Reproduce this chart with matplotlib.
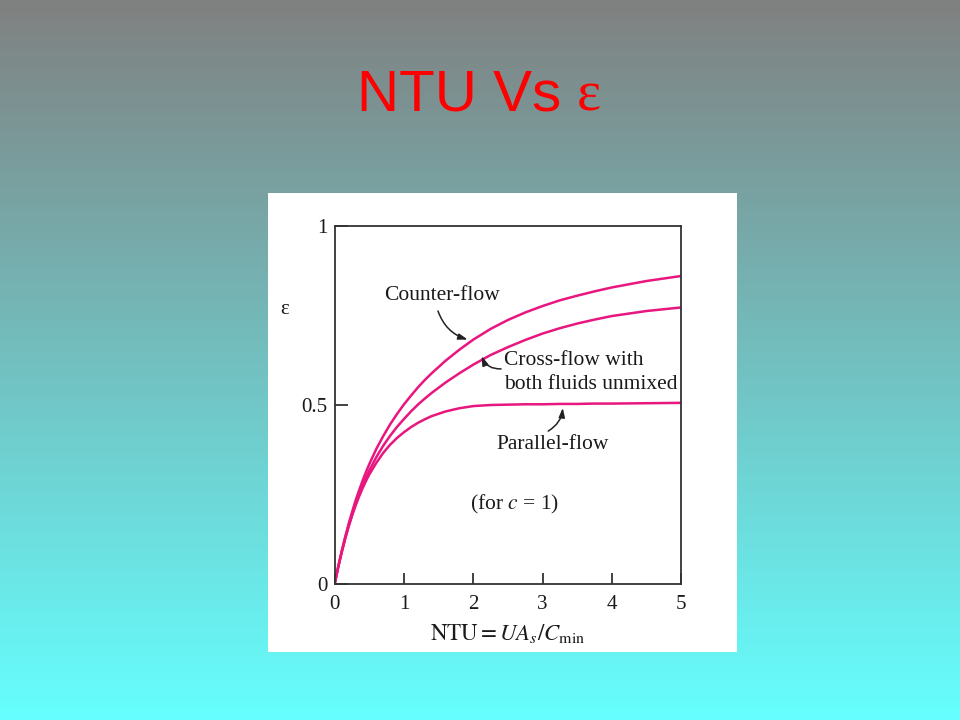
import numpy as np
import matplotlib
matplotlib.use("Agg")
import matplotlib.pyplot as plt

# ---- data ----
ntu = [0, 0.05, 0.1, 0.15, 0.2, 0.25, 0.3, 0.35, 0.4, 0.45, 0.5, 0.6, 0.7,
       0.8, 0.9, 1.0, 1.1, 1.2, 1.3, 1.4, 1.6, 1.8, 2.0, 2.25, 2.5, 2.75,
       3.0, 3.25, 3.5, 3.75, 4.0, 4.5, 5.0]
eff_counter = [0, 0.047, 0.09, 0.13, 0.167, 0.2, 0.232, 0.26, 0.287, 0.312,
               0.335, 0.377, 0.413, 0.446, 0.475, 0.502, 0.526, 0.549, 0.57,
               0.589, 0.624, 0.655, 0.683, 0.713, 0.738, 0.759, 0.777, 0.793,
               0.806, 0.818, 0.829, 0.847, 0.861]
eff_cross = [0, 0.046, 0.088, 0.126, 0.161, 0.193, 0.222, 0.249, 0.273, 0.296,
             0.317, 0.354, 0.386, 0.414, 0.439, 0.461, 0.482, 0.501, 0.518,
             0.534, 0.563, 0.589, 0.613, 0.64, 0.662, 0.682, 0.70, 0.715,
             0.728, 0.739, 0.749, 0.763, 0.773]
eff_parallel = [0, 0.046, 0.087, 0.125, 0.159, 0.19, 0.218, 0.243, 0.266,
                0.287, 0.306, 0.338, 0.366, 0.389, 0.408, 0.424, 0.438, 0.45,
                0.46, 0.469, 0.482, 0.491, 0.497, 0.50, 0.501, 0.502, 0.502,
                0.503, 0.503, 0.504, 0.504, 0.505, 0.506]
x_ticks = [0, 1, 2, 3, 4, 5]
y_ticks = [0, 0.5, 1]
y_tick_labels = ["0", "0.5", "1"]

plt.rcParams['mathtext.fontset'] = 'stix'
serif = ['Liberation Serif', 'DejaVu Serif']

fig = plt.figure(figsize=(9.6, 7.2), dpi=100)

# background gradient
bg = fig.add_axes([0, 0, 1, 1], zorder=-10)
top = np.array([128, 128, 128]) / 255.0
bot = np.array([102, 255, 255]) / 255.0
t = np.linspace(0, 1, 256)[:, None]
grad = (top[None, :] * (1 - t) + bot[None, :] * t)[:, None, :]
bg.imshow(grad, aspect='auto', extent=[0, 1, 0, 1], origin='upper')
bg.set_axis_off()

# title
fig.text(0.372, 0.847, "NTU Vs ", color='#ff0000', fontsize=42,
         family=['Liberation Sans', 'DejaVu Sans'], ha='left', va='baseline')
fig.text(0.601, 0.847, "\u03b5", color='#ff0000', fontsize=41,
         family=serif, ha='left', va='baseline')

# white panel
panel = fig.add_axes([268/960, 1 - 652/720, 469/960, 459/720], zorder=-5)
panel.set_facecolor('white')
panel.set_xticks([]); panel.set_yticks([])
for s in panel.spines.values():
    s.set_visible(False)

ax = fig.add_axes([334.7/960, 1 - 583.7/720, 346.6/960, 357.4/720])
ax.set_facecolor('white')
col = '#e8167f'
for eff in (eff_counter, eff_cross, eff_parallel):
    ax.plot(ntu, eff, color=col, lw=1.8, solid_capstyle='round',
            solid_joinstyle='round')
ax.set_xlim(0, 5)
ax.set_ylim(0, 1)

for s in ax.spines.values():
    s.set_color('#333333')
    s.set_linewidth(1.3)

tc = '#1a1a1a'
ax.set_xticks(x_ticks)
ax.set_xticklabels([str(v) for v in x_ticks], family=serif, fontsize=15)
ax.set_yticks(y_ticks)
ax.set_yticklabels(y_tick_labels, family=serif, fontsize=15)
ax.tick_params(axis='x', direction='in', length=8, width=1.3, color='#333333',
               pad=8, labelcolor=tc)
ax.tick_params(axis='y', direction='in', length=9.5, width=1.3, color='#333333',
               pad=5, labelcolor=tc)

ax.set_xlabel(r"$\mathrm{NTU} = UA_s/C_{\mathrm{min}}$", fontsize=16.5,
              color=tc, labelpad=6)
fig.text(285/960, 1 - 310/720, "\u03b5", family=serif, fontsize=15,
         color=tc, ha='center', va='center')

fs = 15.5
ax.text(0.71, 0.806, "Counter-flow", family=serif, fontsize=fs, color=tc,
        ha='left', va='center')
ax.text(2.44, 0.592, "Cross-flow with\nboth fluids unmixed", family=serif,
        fontsize=fs, color=tc, ha='left', va='center', linespacing=1.35)
ax.text(2.33, 0.389, "Parallel-flow", family=serif, fontsize=fs, color=tc,
        ha='left', va='center')
ax.text(2.6, 0.223, "(for $c$ = 1)", family=serif, fontsize=fs, color=tc,
        ha='center', va='center')

arrow = dict(arrowstyle='-|>,head_length=0.55,head_width=0.18', color='#222222',
             lw=1.1, shrinkA=0, shrinkB=0)
ax.annotate("", xy=(1.92, 0.683), xytext=(1.49, 0.763),
            arrowprops=dict(connectionstyle='arc3,rad=0.25', **arrow))
ax.annotate("", xy=(2.12, 0.637), xytext=(2.40, 0.601),
            arrowprops=dict(connectionstyle='arc3,rad=-0.35', **arrow))
ax.annotate("", xy=(3.29, 0.492), xytext=(3.08, 0.427),
            arrowprops=dict(connectionstyle='arc3,rad=0.25', **arrow))

fig.savefig("out.png", dpi=100)
